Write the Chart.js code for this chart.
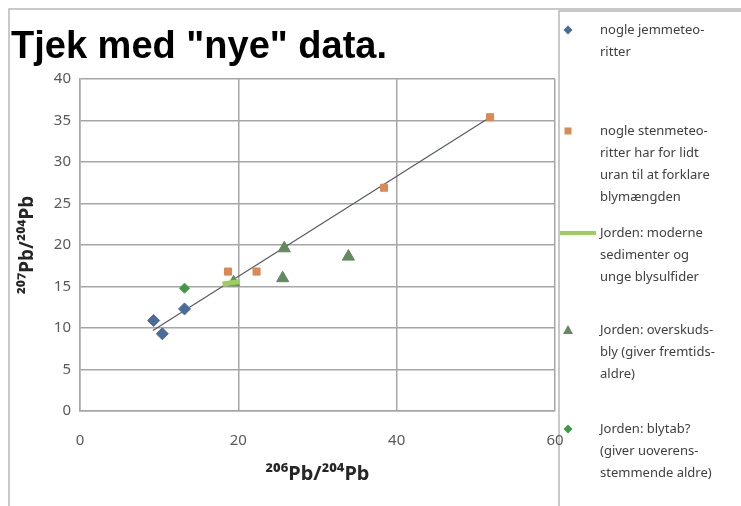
<!DOCTYPE html>
<html>
<head>
<meta charset="utf-8">
<script src="https://cdn.jsdelivr.net/npm/chart.js@4"></script>
<style>
  html, body { margin: 0; padding: 0; background: #fff; }
  #wrap { width: 741px; height: 506px; position: relative; }
</style>
</head>
<body>
<div id="wrap"><canvas id="chart" width="741" height="506"></canvas></div>
<script>
// Tjek med "nye" data - 207Pb/204Pb mod 206Pb/204Pb

// Jernmeteoritter
const jernX = [9.3, 10.4, 13.2];
const jernY = [10.9, 9.3, 12.3];

// Stenmeteoritter
const stenX = [18.7, 22.3, 38.4, 51.8];
const stenY = [16.8, 16.8, 26.9, 35.4];

// Jorden: moderne sedimenter (kort linje)
const sedX = [18.0, 20.2];
const sedY = [15.3, 15.6];

// Jorden: overskudsbly
const overX = [19.4, 25.6, 25.8, 33.9];
const overY = [15.5, 16.0, 19.6, 18.6];

// Jorden: blytab
const tabX = [13.2];
const tabY = [14.8];

// Tendenslinje
const lineX = [9.2, 51.8];
const lineY = [9.7, 35.4];

const xTicks = [0, 20, 40, 60];

const legendItems = [
    { lines: ['nogle jemmeteo-', 'ritter'], y: 30 },
    { lines: ['nogle stenmeteo-', 'ritter har for lidt', 'uran til at forklare', 'blymængden'], y: 131 },
    { lines: ['Jorden: moderne', 'sedimenter og', 'unge blysulfider'], y: 233 },
    { lines: ['Jorden: overskuds-', 'bly (giver fremtids-', 'aldre)'], y: 330 },
    { lines: ['Jorden: blytab?', '(giver uoverens-', 'stemmende aldre)'], y: 429 }
];

function pts(xs, ys) {
    return xs.map((x, i) => ({ x: x, y: ys[i] }));
}

const datasets = [
    {
        label: 'nogle jemmeteoritter',
        data: pts(jernX, jernY),
        pointStyle: 'rectRot',
        pointRadius: 6,
        backgroundColor: '#4a6c9b',
        borderColor: '#4a6c9b',
        showLine: false
    },
    {
        label: 'nogle stenmeteoritter',
        data: pts(stenX, stenY),
        pointStyle: 'rect',
        pointRadius: 5,
        backgroundColor: '#d98a55',
        borderColor: '#d98a55',
        showLine: false
    },
    {
        label: 'Jorden: moderne sedimenter',
        data: pts(sedX, sedY),
        type: 'line',
        borderColor: '#9ccf5a',
        borderWidth: 5,
        pointRadius: 0,
        showLine: true
    },
    {
        label: 'Jorden: overskudsbly',
        data: pts(overX, overY),
        pointStyle: 'triangle',
        pointRadius: 7,
        backgroundColor: '#628a5e',
        borderColor: '#628a5e',
        showLine: false
    },
    {
        label: 'Jorden: blytab',
        data: pts(tabX, tabY),
        pointStyle: 'rectRot',
        pointRadius: 5,
        backgroundColor: '#3d9a45',
        borderColor: '#3d9a45',
        showLine: false
    },
    {
        label: 'tendens',
        data: pts(lineX, lineY),
        type: 'line',
        borderColor: '#555b60',
        borderWidth: 1.2,
        pointRadius: 0,
        showLine: true
    }
];

function drawMarker(ctx, kind, color, x, y) {
    ctx.save();
    ctx.fillStyle = color;
    ctx.strokeStyle = color;
    ctx.beginPath();
    if (kind === 'diamond') {
        ctx.moveTo(x, y - 4.5); ctx.lineTo(x + 4.5, y); ctx.lineTo(x, y + 4.5); ctx.lineTo(x - 4.5, y);
        ctx.closePath(); ctx.fill();
    } else if (kind === 'square') {
        ctx.fillRect(x - 3.5, y - 3.5, 7, 7);
    } else if (kind === 'triangle') {
        ctx.moveTo(x, y - 5); ctx.lineTo(x + 5, y + 4); ctx.lineTo(x - 5, y + 4);
        ctx.closePath(); ctx.fill();
    } else if (kind === 'line') {
        ctx.lineWidth = 4;
        ctx.moveTo(x - 6, y); ctx.lineTo(x + 30, y); ctx.stroke();
    }
    ctx.restore();
}

const decorPlugin = {
    id: 'decor',
    beforeDraw(chart) {
        const ctx = chart.ctx;
        ctx.save();
        ctx.fillStyle = '#fff';
        ctx.fillRect(0, 0, chart.width, chart.height);
        ctx.strokeStyle = '#b8b8b8';
        ctx.lineWidth = 1.5;
        // outer frame
        ctx.beginPath();
        ctx.moveTo(9, 506); ctx.lineTo(9, 9); ctx.lineTo(741, 9);
        ctx.stroke();
        // legend box
        ctx.beginPath();
        ctx.moveTo(559, 506); ctx.lineTo(559, 11); ctx.lineTo(741, 11);
        ctx.stroke();
        ctx.restore();
    },
    afterDraw(chart) {
        const ctx = chart.ctx;
        ctx.save();
        // title
        ctx.fillStyle = '#000';
        ctx.font = 'bold 38px "Liberation Sans", Arial, sans-serif';
        ctx.textBaseline = 'alphabetic';
        ctx.textAlign = 'left';
        ctx.fillText('Tjek med "nye" data.', 11, 58);

        // legend
        const kinds = ['diamond', 'square', 'line', 'triangle', 'diamond'];
        const colors = ['#4a6c9b', '#d98a55', '#9ccf5a', '#628a5e', '#3d9a45'];
        ctx.font = '13px "Noto Sans", sans-serif';
        ctx.fillStyle = '#404040';
        ctx.textBaseline = 'middle';
        legendItems.forEach((item, i) => {
            const mx = kinds[i] === 'line' ? 566 : 568;
            drawMarker(ctx, kinds[i], colors[i], mx, item.y);
            item.lines.forEach((t, j) => {
                ctx.fillText(t, 600, item.y + j * 22);
            });
        });
        ctx.restore();
    }
};

const axisFont = { family: '"Noto Sans", sans-serif', size: 15 };

new Chart(document.getElementById('chart').getContext('2d'), {
    type: 'scatter',
    data: { datasets: datasets },
    options: {
        responsive: false,
        animation: false,
        layout: { padding: { left: 0, top: 79, right: 186, bottom: 0 } },
        plugins: {
            legend: { display: false },
            title: { display: false },
            tooltip: { enabled: false }
        },
        scales: {
            x: {
                type: 'linear',
                min: 0,
                max: 60,
                afterFit: (s) => { s.height = 95; },
                afterBuildTicks: (s) => { s.ticks = xTicks.map(v => ({ value: v })); },
                grid: { color: '#a6a6a6', lineWidth: 1.5, drawTicks: false },
                border: { color: '#a6a6a6', width: 1.5 },
                ticks: { color: '#595959', font: axisFont, padding: 21 },
                title: {
                    display: true,
                    text: '²⁰⁶Pb/²⁰⁴Pb',
                    color: '#262626',
                    font: { family: '"Noto Sans", sans-serif', size: 20, weight: 'bold' },
                    padding: { top: 0, bottom: 20 }
                }
            },
            y: {
                type: 'linear',
                min: 0,
                max: 40,
                afterFit: (s) => { s.width = 80; },
                grid: { color: '#a6a6a6', lineWidth: 1.5, drawTicks: false },
                border: { color: '#a6a6a6', width: 1.5 },
                ticks: { stepSize: 5, color: '#595959', font: axisFont, padding: 9 },
                title: {
                    display: true,
                    text: '²⁰⁷Pb/²⁰⁴Pb',
                    color: '#262626',
                    font: { family: '"Noto Sans", sans-serif', size: 19, weight: 'bold' },
                    padding: { top: 16, bottom: 0 }
                }
            }
        }
    },
    plugins: [decorPlugin]
});
</script>
</body>
</html>
